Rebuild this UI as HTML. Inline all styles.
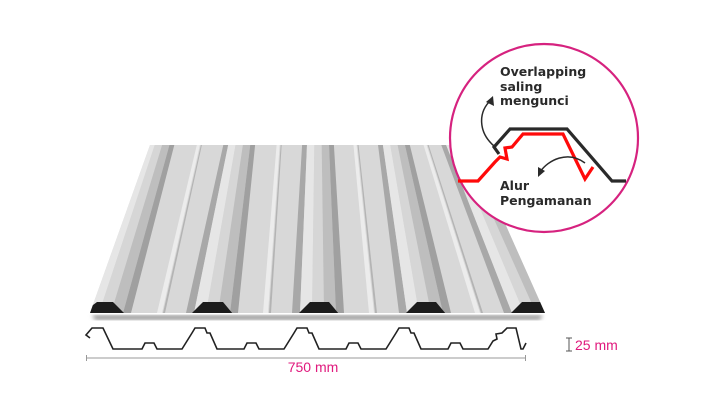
<!DOCTYPE html>
<html><head><meta charset="utf-8"><style>
html,body{margin:0;padding:0;background:#fff;width:720px;height:411px;overflow:hidden}
svg{display:block}
</style></head><body>
<svg width="720" height="411" viewBox="0 0 720 411" xmlns="http://www.w3.org/2000/svg">
<defs>
<clipPath id="sh"><polygon points="150,145 470,145 545,313 90,313"/></clipPath>
<filter id="bl"><feGaussianBlur stdDeviation="2"/></filter>
</defs>
<polygon points="92,315 543,315 540,320 95,320" fill="#999" filter="url(#bl)"/>
<g clip-path="url(#sh)">
<rect x="80" y="130" width="480" height="190" fill="#d8d8d8"/>
<g>
<polygon points="144.4,140 149.2,140 87,313 79,313" fill="#a8a8a8"/>
<polygon points="149.2,140 156.4,140 99,313 87,313" fill="#e6e6e6"/>
<polygon points="156.4,140 163.6,140 111,313 99,313" fill="#d6d6d6"/>
<polygon points="163.6,140 170.8,140 123,313 111,313" fill="#bebebe"/>
<polygon points="170.8,140 175.6,140 131,313 123,313" fill="#a0a0a0"/>

<polygon points="224.4,140 229.2,140 194,313 186,313" fill="#a8a8a8"/>
<polygon points="229.2,140 236.4,140 206,313 194,313" fill="#e6e6e6"/>
<polygon points="236.4,140 243.6,140 218,313 206,313" fill="#d6d6d6"/>
<polygon points="243.6,140 250.8,140 230,313 218,313" fill="#bebebe"/>
<polygon points="250.8,140 255.6,140 238,313 230,313" fill="#a0a0a0"/>

<polygon points="302.4,140 307.2,140 300,313 292,313" fill="#a8a8a8"/>
<polygon points="307.2,140 314.4,140 312,313 300,313" fill="#e6e6e6"/>
<polygon points="314.4,140 321.6,140 324,313 312,313" fill="#d6d6d6"/>
<polygon points="321.6,140 328.8,140 336,313 324,313" fill="#bebebe"/>
<polygon points="328.8,140 333.6,140 344,313 336,313" fill="#a0a0a0"/>

<polygon points="377.4,140 382.2,140 407,313 399,313" fill="#a8a8a8"/>
<polygon points="382.2,140 389.4,140 419,313 407,313" fill="#e6e6e6"/>
<polygon points="389.4,140 396.6,140 431,313 419,313" fill="#d6d6d6"/>
<polygon points="396.6,140 403.8,140 443,313 431,313" fill="#bebebe"/>
<polygon points="403.8,140 408.6,140 451,313 443,313" fill="#a0a0a0"/>

<polygon points="439.4,140 444.2,140 512,313 504,313" fill="#a8a8a8"/>
<polygon points="444.2,140 451.4,140 524,313 512,313" fill="#e6e6e6"/>
<polygon points="451.4,140 458.6,140 536,313 524,313" fill="#d6d6d6"/>
<polygon points="458.6,140 465.8,140 548,313 536,313" fill="#bebebe"/>
</g>
<g fill="#ececec">
<polygon points="198,140 201,140 162,313 157,313"/>
<polygon points="277,140 280,140 268,313 263,313"/>
<polygon points="353,140 356,140 374,313 369,313"/>
<polygon points="422,140 425,140 480,313 475,313"/>
</g>
<g fill="#b4b4b4">
<polygon points="202,140 203,140 165,313 163,313"/>
<polygon points="281,140 282,140 271,313 269,313"/>
<polygon points="357,140 358,140 377,313 375,313"/>
<polygon points="426,140 427,140 483,313 481,313"/>
</g>
<g fill="#1c1c1c">
<path d="M81,314 L97,302 L113,302 L125,314 Z"/>
<path d="M191,314 L203,302 L223,302 L233,314 Z"/>
<path d="M298,314 L310,302 L329,302 L339,314 Z"/>
<path d="M405,314 L417,302 L436,302 L446,314 Z"/>
<path d="M510,314 L522,302 L545,302 L548,314 Z"/>
</g>
</g>

<circle cx="544" cy="138" r="94" fill="#fff" stroke="#d6227f" stroke-width="2.2"/>
<g font-family="'DejaVu Sans',sans-serif" font-weight="bold" font-size="12.5" fill="#2a2a2a">
<text x="500" y="76">Overlapping</text>
<text x="500" y="91">saling</text>
<text x="500" y="105">mengunci</text>
<text x="500" y="190">Alur</text>
<text x="500" y="205">Pengamanan</text>
</g>
<polyline points="458,181 478,181 495,162 500,157 507,159 505,148 512,147 523,134 563,134 585,179 593,167" fill="none" stroke="#ff0a0a" stroke-width="3.2" stroke-linejoin="miter"/>
<polyline points="499,154 494,147 510,129 567,129 612,181 626,181" fill="none" stroke="#2a2a2a" stroke-width="3.2"/>
<path d="M494,146 C478,132 478,112 491,100" fill="none" stroke="#2a2a2a" stroke-width="1.5"/>
<polygon points="493,96 494,106 486,102" fill="#2a2a2a"/>
<path d="M585,163 C568,150 548,160 540,172" fill="none" stroke="#2a2a2a" stroke-width="1.5"/>
<polygon points="538,177 538,167 545,171" fill="#2a2a2a"/>

<path d="M90,338 L86,335 L92,328 L103,328 L113,349 L142,349 L145,343 L154,343 L157,349 L182,349
L192,333 L195,328 L205,328 L207,333 L210,333 L217,349 L244,349 L247,343 L256,343 L259,349 L284,349
L294,333 L297,328 L307,328 L309,333 L312,333 L319,349 L346,349 L349,343 L358,343 L361,349 L386,349
L396,333 L399,328 L409,328 L411,333 L414,333 L421,349 L448,349 L451,343 L460,343 L463,349 L488,349
L493,341 L497,339 L496,334 L502,333 L507,328 L516,328 L521,349 L523,349 L526,343" fill="none" stroke="#222" stroke-width="1.6" stroke-linejoin="miter"/>
<line x1="86" y1="358" x2="526" y2="358" stroke="#999" stroke-width="1"/>
<line x1="86.5" y1="355" x2="86.5" y2="361" stroke="#999"/>
<line x1="525.5" y1="355" x2="525.5" y2="361" stroke="#999"/>
<text x="313" y="372" text-anchor="middle" font-family="'Liberation Sans',sans-serif" font-size="14" fill="#e0197d">750 mm</text>
<g stroke="#555" stroke-width="1"><line x1="569" y1="338" x2="569" y2="351"/><line x1="566" y1="338" x2="572" y2="338"/><line x1="566" y1="351" x2="572" y2="351"/></g>
<text x="575" y="350" font-family="'Liberation Sans',sans-serif" font-size="14" fill="#e0197d">25 mm</text>
</svg>
</body></html>
